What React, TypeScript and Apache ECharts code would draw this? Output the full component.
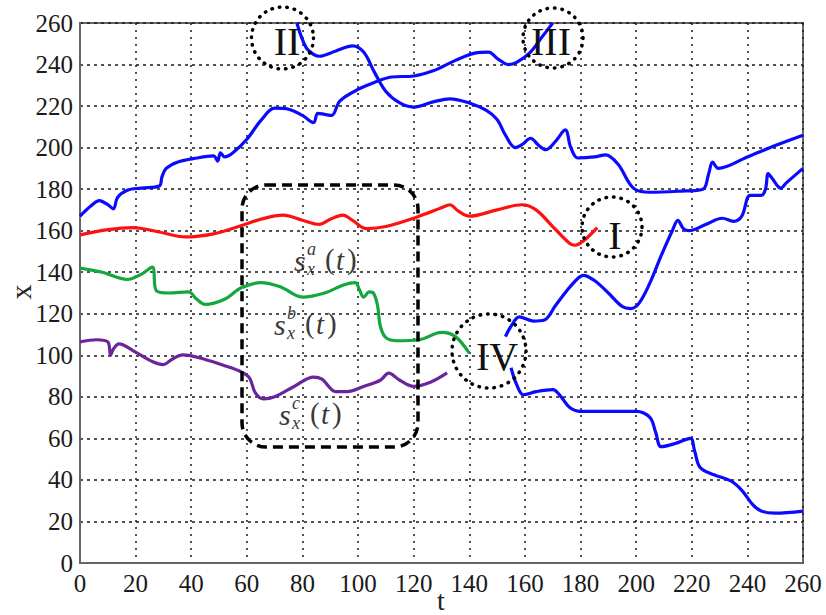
import React, { useEffect, useRef } from "react";
import * as echarts from "echarts";

const xTicks = [0, 20, 40, 60, 80, 100, 120, 140, 160, 180, 200, 220, 240, 260];
const yTicks = [0, 20, 40, 60, 80, 100, 120, 140, 160, 180, 200, 220, 240, 260];

const blueA: number[][] = [
  [0, 167], [4, 172], [7, 174.5], [10, 172.5], [12, 170.5], [13.5, 176], [17, 179.5], [22, 180.5],
  [28.5, 181.5], [29.5, 186], [31, 190], [35, 193], [42, 195], [48, 196], [49.5, 193.5], [50.5, 197.5],
  [52, 195.5], [55, 197.5], [60, 204], [65, 213], [70, 219], [75, 218.5], [80, 215.5], [84, 212],
  [85.5, 216.5], [88, 216], [90.5, 215.5], [93.5, 222.5], [100, 228], [106, 231.5], [112, 234],
  [120, 234.5], [127, 237], [135, 242], [142, 245.5], [147, 246], [150, 243], [154, 240], [157, 241],
  [162, 246], [166, 253], [170, 260],
];

const blueB: number[][] = [
  [78, 260], [80, 252], [82, 247], [86, 244], [92, 246.5], [98, 249], [102, 246], [106, 236],
  [110, 227], [115, 221.5], [120, 219.5], [127, 222], [133, 223.5], [140, 221.5], [146, 218],
  [150, 213.5], [153, 206], [156.5, 200], [159, 201.5], [162, 204.5], [165, 201], [167.5, 199],
  [171, 203], [174.5, 208.5], [176.5, 200], [179, 195], [185, 195.5], [189, 196.5], [193.5, 192],
  [199, 180.5], [205, 178.5], [215, 179], [224, 180], [226, 187], [227.5, 193], [229.5, 190],
  [240, 195.5], [250, 201], [260, 206],
];

const blueC: number[][] = [
  [153, 109], [155, 114], [158, 118.5], [163, 116.5], [167, 117], [171, 124], [175, 131], [179, 137],
  [181, 138.5], [185, 136], [190, 130], [195, 123.5], [198, 122.5], [201, 125], [205, 135], [209, 148],
  [213, 160], [215, 165], [217, 161], [219, 160], [225, 163], [231, 166], [235, 164.5], [238, 167],
  [241, 177], [245, 177], [246.5, 180], [247.5, 187.5], [249, 185], [252, 180.5], [254, 183], [260, 190],
];

const blueD: number[][] = [
  [155, 94], [157, 86], [159.5, 81], [164, 82.5], [170, 83.5], [173, 80], [176, 75], [180, 73],
  [190, 73], [200, 73], [205, 70], [207, 63], [209, 56], [214, 57.5], [219.5, 60], [221, 54],
  [223, 46], [228, 42.5], [234, 39.5], [238, 35], [242, 28], [245, 25], [250, 24], [260, 25],
];

const redLine: number[][] = [
  [0, 158], [10, 160.5], [19, 161.5], [28, 159.5], [38, 157], [48, 158.5], [57, 162], [65, 165.5],
  [73, 167.5], [80, 165], [86, 163], [90, 165.5], [94.5, 167.5], [98, 165], [103, 161], [110, 162],
  [121, 166.5], [130, 171], [133, 172.5], [136, 169.5], [140, 167], [150, 170], [159, 172.5],
  [164, 170], [170, 162], [176, 154], [178, 153], [181, 155], [186, 161.5],
];

const greenLine: number[][] = [
  [0, 142], [8, 140], [17, 136.5], [22, 139], [26, 142.5], [27.5, 131], [32, 130], [39, 130.5],
  [42, 127], [45, 124.5], [52, 127], [58, 132.5], [65, 135], [72, 133], [80, 128], [88, 130],
  [95, 134], [99, 135], [100.5, 131.5], [102, 128], [104, 130.5], [105.5, 130], [107, 124],
  [108, 114], [110, 108.5], [114, 107], [122, 107.5], [130, 111], [135, 109], [140, 101],
];

const purpleLine: number[][] = [
  [0, 106.5], [6, 107.5], [10, 106.5], [11, 100], [12, 103], [14, 105.5], [20, 101.5], [26, 97],
  [30, 95.5], [33, 98], [37, 100.2], [45, 98], [52, 95], [58, 92], [61, 89], [63, 82], [66, 79],
  [70, 80], [77, 85], [84, 89.5], [87, 88.5], [92, 82.5], [96, 82.5], [102, 85], [108, 88],
  [111, 91.4], [115, 88], [120, 85], [126, 87], [132, 91.5],
];

const SERIF = "Liberation Serif, Times New Roman, serif";

function mathLabel(x: number, y: number, sup: string) {
  const style = (text: string, size: number, italic: boolean) => ({
    text,
    fill: "#3a3a3a",
    fontFamily: SERIF,
    fontSize: size,
    fontStyle: italic ? "italic" : "normal",
    align: "left",
    verticalAlign: "middle",
  });
  return {
    type: "group",
    x,
    y,
    z: 120,
    children: [
      { type: "text", x: 0, y: 0, style: style("s", 30, true) },
      { type: "text", x: 13, y: -11, style: style(sup, 18, true) },
      { type: "text", x: 13, y: 9, style: style("x", 18, true) },
      { type: "text", x: 31, y: -1, style: style("(", 29, false) },
      { type: "text", x: 42, y: 0, style: style("t", 29, true) },
      { type: "text", x: 53, y: -1, style: style(")", 29, false) },
    ],
  };
}

function circle(cx: number, cy: number, r: number) {
  return {
    type: "circle",
    z: 110,
    shape: { cx, cy, r },
    style: { fill: "none", stroke: "#000", lineWidth: 3.5, lineDash: [0.5, 7], lineCap: "round" },
  };
}

function roman(x: number, y: number, text: string) {
  return {
    type: "text",
    x,
    y,
    z: 110,
    style: { text, fill: "#111", fontFamily: SERIF, fontSize: 40, align: "center", verticalAlign: "middle" },
  };
}

export default function App() {
  const ref = useRef<HTMLDivElement>(null);
  useEffect(() => {
    document.body.style.margin = "0";
    if (!ref.current) return;
    const chart = echarts.init(ref.current, null, { renderer: "svg" });
    const mk = (data: number[][], color: string) => ({
      type: "line",
      data,
      showSymbol: false,
      smooth: 0.35,
      lineStyle: { color, width: 3.2 },
      itemStyle: { color },
      silent: true,
    });
    chart.setOption({
      animation: false,
      backgroundColor: "#fff",
      textStyle: { fontFamily: SERIF },
      grid: {
        left: 80, right: 23, top: 23, bottom: 52,
        outerBoundsMode: "none", containLabel: false,
        show: true, borderColor: "#666", borderWidth: 2,
      },
      xAxis: {
        type: "value",
        min: xTicks[0],
        max: xTicks[xTicks.length - 1],
        interval: 20,
        axisLine: { show: true, lineStyle: { color: "#666", width: 2 } },
        axisTick: { show: false },
        axisLabel: { fontFamily: SERIF, fontSize: 25, color: "#1a1a1a", margin: 8 },
        splitLine: { show: true, lineStyle: { color: "#1a1a1a", type: [2, 5], width: 1.5 } },
      },
      yAxis: {
        type: "value",
        min: yTicks[0],
        max: yTicks[yTicks.length - 1],
        interval: 20,
        axisLine: { show: true, lineStyle: { color: "#666", width: 2 } },
        axisTick: { show: false },
        axisLabel: { fontFamily: SERIF, fontSize: 25, color: "#1a1a1a", margin: 7 },
        splitLine: { show: true, lineStyle: { color: "#1a1a1a", type: [3, 4], width: 1.5 } },
      },
      series: [
        mk(blueA, "#0a0aff"),
        mk(blueB, "#0a0aff"),
        mk(blueC, "#0a0aff"),
        mk(blueD, "#0a0aff"),
        mk(redLine, "#ff1010"),
        mk(greenLine, "#12a83c"),
        mk(purpleLine, "#6a259c"),
      ],
      graphic: [
        {
          type: "text",
          x: 441,
          y: 600,
          style: { text: "t", fill: "#222", fontFamily: SERIF, fontSize: 28, align: "center", verticalAlign: "middle" },
        },
        {
          type: "text",
          x: 20,
          y: 292,
          rotation: Math.PI / 2,
          style: { text: "x", fill: "#222", fontFamily: SERIF, fontSize: 30, align: "center", verticalAlign: "middle" },
        },
        {
          type: "rect",
          z: 100,
          shape: { x: 242, y: 185, width: 176, height: 262, r: 24 },
          style: { fill: "none", stroke: "#000", lineWidth: 3.5, lineDash: [10, 6] },
        },
        circle(282.5, 38, 31),
        circle(553, 38, 30),
        circle(612, 227, 30),
        circle(489, 351, 37),
        roman(287, 41, "II"),
        roman(551, 41, "III"),
        roman(615, 235, "I"),
        roman(497, 356, "IV"),
        mathLabel(294, 260, "a"),
        mathLabel(274, 324, "b"),
        mathLabel(279, 414, "c"),
      ],
    });
    return () => chart.dispose();
  }, []);
  return <div ref={ref} style={{ width: 826, height: 615 }} />;
}
